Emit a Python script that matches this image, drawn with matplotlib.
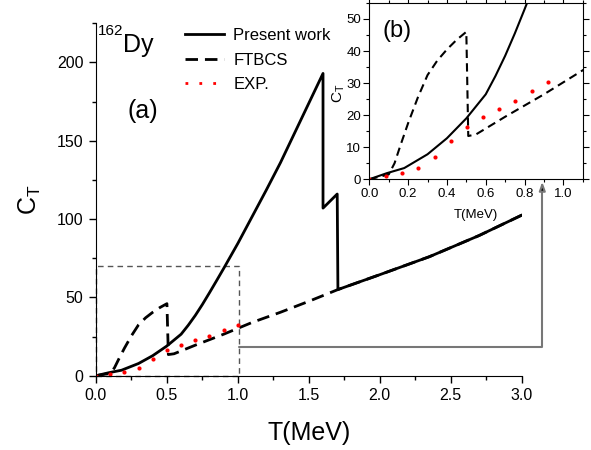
import matplotlib
matplotlib.use("Agg")
import matplotlib.pyplot as plt
from matplotlib.lines import Line2D
from matplotlib.patches import Rectangle
from matplotlib.ticker import MultipleLocator

plt.rcParams['font.family'] = ['Liberation Sans', 'DejaVu Sans']
plt.rcParams['mathtext.fontset'] = 'custom'
plt.rcParams['mathtext.rm'] = 'Liberation Sans'

# ============== data ==============
present_T = [0.0, 0.09, 0.18, 0.30, 0.40, 0.50, 0.60, 0.65, 0.70, 0.75, 0.80, 0.85, 0.90, 1.00,
             1.10, 1.20, 1.30, 1.40, 1.50, 1.60, 1.60, 1.70, 1.705, 2.00, 2.35, 2.70, 3.00]
present_C = [0.0, 1.9, 3.5, 7.8, 12.8, 19.0, 26.5, 32.2, 38.5, 45.5, 53.0, 60.7, 68.5, 84.5,
             101.5, 118.5, 136.0, 155.0, 174.0, 193.0, 107.0, 116.0, 55.0, 64.5, 76.0, 89.5, 102.5]

ftbcs_T = [0.0, 0.10, 0.13, 0.16, 0.20, 0.25, 0.30, 0.35, 0.40, 0.45, 0.50, 0.51,
           0.55, 0.70, 0.90, 1.10, 1.30, 1.50, 1.705, 2.00, 2.35, 2.70, 3.00]
ftbcs_C = [0.0, 1.5, 5.0, 10.5, 17.5, 25.5, 32.5, 37.0, 40.5, 43.5, 46.0, 13.5,
           14.0, 19.5, 26.5, 34.0, 40.5, 47.5, 55.0, 64.5, 76.0, 89.5, 102.5]

exp_T = [0.0, 0.1, 0.2, 0.3, 0.4, 0.5, 0.6, 0.7, 0.8, 0.9, 1.0]
exp_C = [0.0, 0.9, 2.1, 4.9, 10.4, 16.2, 19.6, 22.6, 25.5, 29.1, 32.3]

exp_T_inset = [0.0, 0.085, 0.169, 0.253, 0.337, 0.42, 0.502, 0.585, 0.669, 0.753, 0.837, 0.92]
exp_C_inset = [0.0, 1.0, 1.9, 3.6, 7.0, 11.9, 16.4, 19.5, 21.9, 24.5, 27.5, 30.3]

fig = plt.figure(figsize=(5.91, 4.5), dpi=100)

# ---------- main panel (a) ----------
ax = fig.add_axes([0.1624, 0.1651, 0.7203, 0.7831])
ax.plot(ftbcs_T, ftbcs_C, color='k', lw=2, dashes=(4.5, 2.5))
ax.plot(present_T, present_C, color='k', lw=2)
ax.plot(exp_T, exp_C, 'o', color='red', ms=3, mec='none')

ax.set_xlim(0, 3.0)
ax.set_ylim(0, 225)
ax.xaxis.set_major_locator(MultipleLocator(0.5))
ax.xaxis.set_minor_locator(MultipleLocator(0.25))
ax.yaxis.set_major_locator(MultipleLocator(50))
ax.yaxis.set_minor_locator(MultipleLocator(25))
ax.spines[['top', 'right']].set_visible(False)
ax.tick_params(which='both', direction='out', labelsize=11.5, width=1)
ax.tick_params(which='major', length=5, pad=4)
ax.tick_params(which='minor', length=3)
ax.set_xlabel('T(MeV)', fontsize=18, labelpad=13)
ax.set_ylabel(r'C$_\mathregular{T}$', fontsize=18, labelpad=10)

ax.text(0.014, 217.5, '162', fontsize=11, va='baseline')
ax.text(0.19, 206.4, 'Dy', fontsize=18, va='baseline')
ax.text(0.328, 168.9, '(a)', fontsize=18, ha='center', va='center')

ax.add_patch(Rectangle((0, 0), 1.01, 70, fill=False, ls=(0, (4, 3)),
                       ec='#555555', lw=1, clip_on=False))

handles = [Line2D([], [], color='k', lw=2),
           Line2D([], [], color='k', lw=2, dashes=(4.5, 2.5)),
           Line2D([], [], color='red', lw=2, ls=(0, (1, 4)))]
fig.legend(handles, ['Present work', 'FTBCS', 'EXP.'], loc='upper left',
           bbox_to_anchor=(0.313, 0.938), frameon=False, fontsize=12,
           handlelength=2.35, handletextpad=0.55, labelspacing=0.58,
           borderpad=0, borderaxespad=0)

# connector from zoom box to inset
ax.annotate('', xy=(0.9176, 0.5962), xycoords='figure fraction',
            xytext=(1.01, 18.6), textcoords='data',
            arrowprops=dict(arrowstyle='-|>,head_length=0.5,head_width=0.18',
                            edgecolor='#777777', facecolor='k', lw=1.5,
                            connectionstyle='angle,angleA=0,angleB=90,rad=0',
                            shrinkA=0, shrinkB=0))

# ---------- inset (b) ----------
axi = fig.add_axes([0.6249, 0.6016, 0.3611, 0.3918])
axi.plot(ftbcs_T, ftbcs_C, color='k', lw=1.5, dashes=(4, 2.5))
axi.plot(present_T, present_C, color='k', lw=1.5)
axi.plot(exp_T_inset, exp_C_inset, 'o', color='red', ms=3, mec='none')
axi.set_xlim(0, 1.1)
axi.set_ylim(0, 55)
axi.xaxis.set_major_locator(MultipleLocator(0.2))
axi.xaxis.set_minor_locator(MultipleLocator(0.1))
axi.yaxis.set_major_locator(MultipleLocator(10))
axi.yaxis.set_minor_locator(MultipleLocator(5))
axi.tick_params(which='both', direction='out', top=True, right=True,
                labelsize=9.5, width=0.8, pad=2)
axi.tick_params(which='major', length=4)
axi.tick_params(which='minor', length=2)
axi.set_xlabel('T(MeV)', fontsize=9.5, labelpad=7)
axi.set_ylabel(r'C$_\mathregular{T}$', fontsize=11)
axi.yaxis.set_label_coords(-0.105, 0.49)
axi.text(0.145, 46.2, '(b)', fontsize=17, ha='center', va='center')

fig.savefig('out.png', dpi=100)
